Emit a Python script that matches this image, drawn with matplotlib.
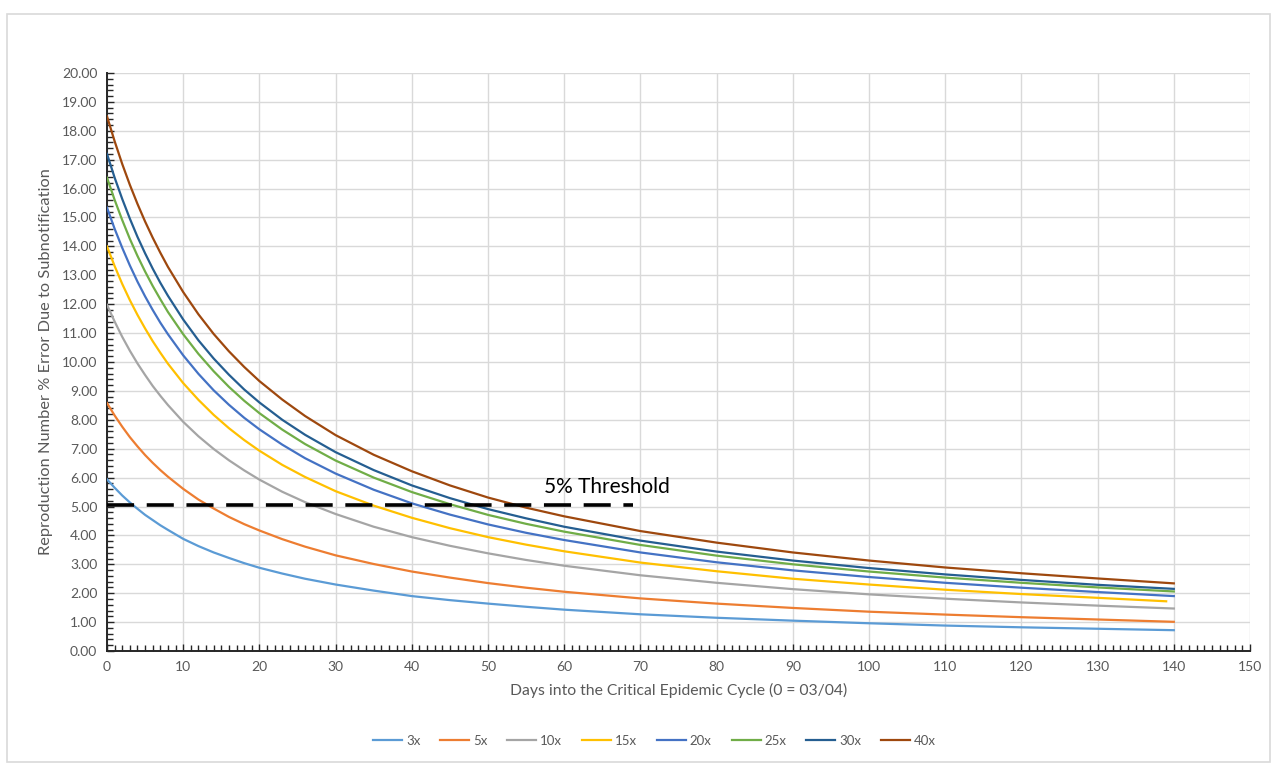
import matplotlib
matplotlib.use("Agg")
import matplotlib.pyplot as plt
from matplotlib.ticker import MultipleLocator, FormatStrFormatter
from matplotlib.patches import Rectangle

plt.rcParams['font.family'] = ['Lato', 'DejaVu Sans']

# data
days = [0, 1, 2, 3, 4, 5, 6, 7, 8, 10, 12, 14, 16, 18, 20, 23, 26, 30, 35, 40,
        45, 50, 55, 60, 70, 80, 90, 100, 110, 120, 130, 140]
days_15x = days[:-1] + [139]

err_3x = [5.94, 5.65, 5.38, 5.14, 4.92, 4.71, 4.53, 4.35, 4.19, 3.88, 3.63, 3.41, 3.22, 3.04, 2.88,
          2.68, 2.50, 2.30, 2.09, 1.90, 1.76, 1.64, 1.53, 1.43, 1.27, 1.15, 1.05, 0.96, 0.88, 0.82, 0.77, 0.72]
err_5x = [8.58, 8.15, 7.76, 7.40, 7.08, 6.78, 6.51, 6.26, 6.03, 5.61, 5.24, 4.93, 4.64, 4.39, 4.17,
          3.87, 3.61, 3.31, 3.01, 2.75, 2.54, 2.35, 2.19, 2.05, 1.82, 1.64, 1.49, 1.36, 1.26, 1.17, 1.09, 1.01]
err_10x = [11.98, 11.40, 10.87, 10.39, 9.95, 9.55, 9.17, 8.83, 8.51, 7.93, 7.43, 6.99, 6.60, 6.25, 5.93,
           5.51, 5.15, 4.74, 4.30, 3.94, 3.64, 3.38, 3.15, 2.95, 2.62, 2.36, 2.14, 1.96, 1.81, 1.68, 1.57, 1.47]
err_15x = [14.00, 13.32, 12.70, 12.14, 11.63, 11.16, 10.72, 10.32, 9.94, 9.27, 8.69, 8.17, 7.71, 7.30, 6.93,
           6.44, 6.02, 5.53, 5.03, 4.61, 4.25, 3.94, 3.68, 3.45, 3.06, 2.76, 2.50, 2.30, 2.12, 1.97, 1.84, 1.72]
err_20x = [15.34, 14.61, 13.95, 13.34, 12.78, 12.27, 11.80, 11.36, 10.96, 10.23, 9.59, 9.02, 8.52, 8.07, 7.67,
           7.14, 6.67, 6.14, 5.58, 5.11, 4.72, 4.38, 4.09, 3.84, 3.41, 3.07, 2.79, 2.56, 2.36, 2.19, 2.04, 1.90]
err_25x = [16.38, 15.61, 14.91, 14.26, 13.67, 13.13, 12.63, 12.17, 11.73, 10.96, 10.28, 9.68, 9.14, 8.66, 8.23,
           7.66, 7.16, 6.59, 6.00, 5.50, 5.08, 4.71, 4.40, 4.13, 3.67, 3.30, 3.00, 2.75, 2.54, 2.36, 2.20, 2.06]
err_30x = [17.20, 16.38, 15.64, 14.96, 14.33, 13.76, 13.23, 12.74, 12.29, 11.47, 10.75, 10.12, 9.56, 9.05, 8.60,
           8.00, 7.48, 6.88, 6.26, 5.73, 5.29, 4.91, 4.59, 4.30, 3.82, 3.44, 3.13, 2.87, 2.65, 2.46, 2.29, 2.15]
err_40x = [18.50, 17.64, 16.85, 16.13, 15.47, 14.86, 14.30, 13.78, 13.29, 12.42, 11.65, 10.97, 10.37, 9.83, 9.34,
           8.70, 8.13, 7.47, 6.79, 6.22, 5.73, 5.31, 4.96, 4.66, 4.15, 3.75, 3.41, 3.13, 2.89, 2.69, 2.51, 2.34]

labels = ["3x", "5x", "10x", "15x", "20x", "25x", "30x", "40x"]
colors = ["#5B9BD5", "#ED7D31", "#A5A5A5", "#FFC000", "#4472C4", "#70AD47", "#255E91", "#9E480E"]

threshold = 5.05
threshold_days = [0, 69]

series = [
    (days, err_3x), (days, err_5x), (days, err_10x), (days_15x, err_15x),
    (days, err_20x), (days, err_25x), (days, err_30x), (days, err_40x),
]

fig = plt.figure(figsize=(12.78, 7.65), dpi=100)
fig.patches.append(Rectangle((7 / 1278, 3 / 765), 1263 / 1278, 748 / 765,
                             transform=fig.transFigure, fill=False,
                             edgecolor="#d9d9d9", linewidth=1.2))
ax = fig.add_axes([107 / 1278, 1 - 651 / 765, 1143 / 1278, 578 / 765])

for (x, y), lab, c in zip(series, labels, colors):
    ax.plot(x, y, color=c, lw=1.6, label=lab, zorder=3, solid_joinstyle="round")

ax.plot(threshold_days, [threshold, threshold], color="black", lw=2.6,
        dashes=(7.5, 3.5), zorder=4)
ax.text(57.4, 5.33, "5% Threshold", fontsize=15, color="black", ha="left", va="bottom")

ax.set_xlim(0, 150)
ax.set_ylim(0, 20)
ax.xaxis.set_major_locator(MultipleLocator(10))
ax.xaxis.set_minor_locator(MultipleLocator(1))
ax.yaxis.set_major_locator(MultipleLocator(1))
ax.yaxis.set_minor_locator(MultipleLocator(0.2))
ax.yaxis.set_major_formatter(FormatStrFormatter("%.2f"))

ax.grid(True, which="major", color="#d9d9d9", lw=1.0, zorder=0)
ax.set_axisbelow(True)
for s in ["top", "right"]:
    ax.spines[s].set_visible(False)
for s in ["left", "bottom"]:
    ax.spines[s].set_color("#262626")
    ax.spines[s].set_linewidth(1.4)

ax.tick_params(which="both", direction="in", color="#262626", width=1.0)
ax.tick_params(which="major", length=5, labelsize=10, labelcolor="#595959", pad=7)
ax.tick_params(which="minor", length=4)

ax.set_xlabel("Days into the Critical Epidemic Cycle (0 = 03/04)", fontsize=11.3,
              color="#595959", labelpad=7)
ax.set_ylabel("Reproduction Number % Error Due to Subnotification", fontsize=11.8,
              color="#595959", labelpad=6)

leg = ax.legend(loc="center", bbox_to_anchor=(0.479, -0.155), ncol=8, frameon=False,
                fontsize=9.5, handlelength=2.2, handletextpad=0.3, columnspacing=1.5)
for t in leg.get_texts():
    t.set_color("#595959")

fig.savefig("out.png", dpi=100)
